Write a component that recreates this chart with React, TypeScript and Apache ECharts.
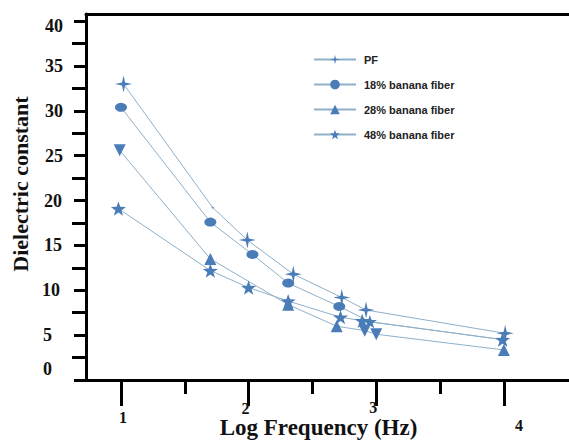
import React, { useEffect, useRef } from "react";
import * as echarts from "echarts";

// ---- data ----
const pfFreq = [1.02, 1.72, 1.99, 2.35, 2.73, 2.92, 4.01];
const pfEps = [33.0, 19.2, 15.6, 11.8, 9.2, 7.8, 5.2];

const fiber18Freq = [1.0, 1.7, 2.03, 2.31, 2.71, 2.95, 3.99];
const fiber18Eps = [30.4, 17.6, 14.0, 10.8, 8.2, 6.5, 4.5];

const fiber28Freq = [0.99, 1.7, 2.31, 2.69, 2.91, 3.0, 4.0];
const fiber28Eps = [25.6, 13.5, 8.4, 6.0, 5.5, 5.1, 3.35];

const fiber48Freq = [0.98, 1.7, 2.0, 2.31, 2.72, 2.89, 3.99];
const fiber48Eps = [19.1, 12.2, 10.3, 8.8, 7.0, 6.6, 4.5];

const seriesNames = ["PF", "18% banana fiber", "28% banana fiber", "48% banana fiber"];

const xTickValues = [1, 2, 3, 4];
const xMinorTickValues = [1.5, 2.5, 3.5];
const yTickValues = [0, 5, 10, 15, 20, 25, 30, 35, 40];
const yMinorTickValues = [2.5, 7.5, 12.5, 17.5, 22.5, 27.5, 32.5, 37.5];

const xTitle = "Log Frequency (Hz)";
const yTitle = "Dielectric constant";

// ---- styles ----
const MARK = "#4a7cb8";
const LINE = "#8fb0c9";
const STAR4 = "path://M0,-10 L1.8,-1.8 L10,0 L1.8,1.8 L0,10 L-1.8,1.8 L-10,0 L-1.8,-1.8 Z";
const STAR5 =
  "path://M0,-10 L2.35,-3.24 L9.51,-3.09 L3.8,1.24 L5.88,8.09 L0,4 L-5.88,8.09 L-3.8,1.24 L-9.51,-3.09 L-2.35,-3.24 Z";

const zip = (xs: number[], ys: number[]) => xs.map((x, i) => [x, ys[i]]);

export default function App() {
  const ref = useRef<HTMLDivElement>(null);
  useEffect(() => {
    if (!ref.current) return;
    const chart = echarts.init(ref.current, null, { renderer: "svg" });

    const serif = "Liberation Serif";

    const makeSeries = (
      name: string,
      pts: number[][],
      symbol: string,
      size: any,
      overrides: Record<number, any> = {}
    ) => ({
      type: "line",
      name,
      data: pts.map((p, i) => (overrides[i] ? { value: p, ...overrides[i] } : p)),
      symbol,
      symbolSize: size,
      symbolKeepAspect: true,
      showSymbol: true,
      lineStyle: { color: LINE, width: 1 },
      itemStyle: { color: MARK, borderWidth: 0 },
      emphasis: { disabled: true },
    });

    const xRich: any = {
      x1: { padding: [10, 0, 0, 4] },
      x2: { padding: [1, 6, 0, 0] },
      x3: { padding: [0, 6, 0, 0] },
      x4: { padding: [18, 0, 0, 30] },
    };
    Object.keys(xRich).forEach((k) => {
      xRich[k] = { ...xRich[k], fontFamily: serif, fontWeight: "bold", fontSize: 16, color: "#111" };
    });
    const yShift: Record<number, number[]> = {
      0: [0, 11, 22, 0],
      5: [0, 11, 0, 0],
      10: [0, 3, 0, 0],
      15: [0, 1, 0, 0],
      20: [0, 1, 0, 0],
      25: [0, 0, 0, 0],
      30: [0, 0, 0, 0],
      35: [0, 0, 0, 0],
      40: [10, 0, 0, 0],
    };
    const yRich: any = {};
    yTickValues.forEach((v) => {
      yRich["y" + v] = {
        padding: yShift[v] || [0, 0, 0, 0],
        fontFamily: serif,
        fontWeight: "bold",
        fontSize: 18,
        color: "#111",
      };
    });

    const xMin = 0.726;
    const xMax = 4.51;
    const yMin = 0;
    const yMax = 40.8;

    chart.setOption({
      animation: false,
      backgroundColor: "#fff",
      grid: {
        left: 86,
        right: 0,
        top: 14,
        bottom: 61,
        containLabel: false,
        outerBoundsMode: "none",
      },
      legend: {
        show: true,
        orient: "vertical",
        left: 308,
        top: 49,
        itemWidth: 42,
        itemHeight: 12,
        itemGap: 14,
        data: seriesNames,
        textStyle: {
          fontFamily: "Liberation Sans",
          fontWeight: "bold",
          fontSize: 11,
          color: "#222",
          padding: [0, 0, 0, 3],
        },
      },
      xAxis: [
        {
          type: "value",
          min: xMin,
          max: xMax,
          position: "bottom",
          name: xTitle,
          nameLocation: "middle",
          nameGap: 36,
          nameMoveOverlap: false,
          nameTextStyle: {
            fontFamily: serif,
            fontWeight: "bold",
            fontSize: 23,
            color: "#111",
            padding: [0, 18, 0, 0],
          },
          axisLine: { show: true, onZero: false, lineStyle: { color: "#000", width: 3 } },
          axisTick: {
            show: true,
            inside: false,
            length: 26,
            customValues: xTickValues,
            lineStyle: { color: "#000", width: 3 },
          },
          axisLabel: {
            show: true,
            margin: 19,
            customValues: xTickValues,
            formatter: (v: number) => `{x${v}|${v}}`,
            rich: xRich,
          },
          splitLine: { show: false },
        },
        {
          type: "value",
          min: xMin,
          max: xMax,
          position: "bottom",
          offset: 0,
          axisLine: { show: false, onZero: false },
          axisTick: {
            show: true,
            length: 14,
            customValues: xMinorTickValues,
            lineStyle: { color: "#000", width: 3 },
          },
          axisLabel: { show: false },
          splitLine: { show: false },
        },
        {
          type: "value",
          min: xMin,
          max: xMax,
          position: "top",
          axisLine: { show: true, onZero: false, lineStyle: { color: "#000", width: 3 } },
          axisTick: { show: false },
          axisLabel: { show: false },
          splitLine: { show: false },
        },
      ],
      yAxis: [
        {
          type: "value",
          min: yMin,
          max: yMax,
          position: "left",
          name: yTitle,
          nameLocation: "middle",
          nameGap: 55,
          nameRotate: 90,
          nameTextStyle: {
            fontFamily: serif,
            fontWeight: "bold",
            fontSize: 22,
            color: "#111",
            padding: [0, 0, 0, 26],
          },
          axisLine: { show: true, onZero: false, lineStyle: { color: "#000", width: 3 } },
          axisTick: {
            show: true,
            length: 12,
            customValues: yTickValues,
            lineStyle: { color: "#000", width: 3 },
          },
          axisLabel: {
            show: true,
            margin: 23,
            customValues: yTickValues,
            formatter: (v: number) => `{y${v}|${v}}`,
            rich: yRich,
          },
          splitLine: { show: false },
        },
        {
          type: "value",
          min: yMin,
          max: yMax,
          position: "left",
          offset: 0,
          axisLine: { show: false, onZero: false },
          axisTick: {
            show: true,
            length: 14,
            customValues: yMinorTickValues,
            lineStyle: { color: "#000", width: 3 },
          },
          axisLabel: { show: false },
          splitLine: { show: false },
        },
      ],
      series: [
        makeSeries(seriesNames[0], zip(pfFreq, pfEps), STAR4, 17, { 1: { symbolSize: 4 } }),
        makeSeries(seriesNames[1], zip(fiber18Freq, fiber18Eps), "circle", [12, 9], {
          5: { symbol: STAR5, symbolSize: 14 },
          6: { symbol: STAR5, symbolSize: 14 },
        }),
        makeSeries(seriesNames[2], zip(fiber28Freq, fiber28Eps), "triangle", 12, {
          0: { symbolRotate: 180 },
          4: { symbolRotate: 180 },
          5: { symbolRotate: 180 },
        }),
        makeSeries(seriesNames[3], zip(fiber48Freq, fiber48Eps), STAR5, 15),
      ],
    });
    return () => chart.dispose();
  }, []);

  return (
    <div
      ref={ref}
      style={{ position: "fixed", left: 0, top: 0, width: 569, height: 441, background: "#fff" }}
    />
  );
}
